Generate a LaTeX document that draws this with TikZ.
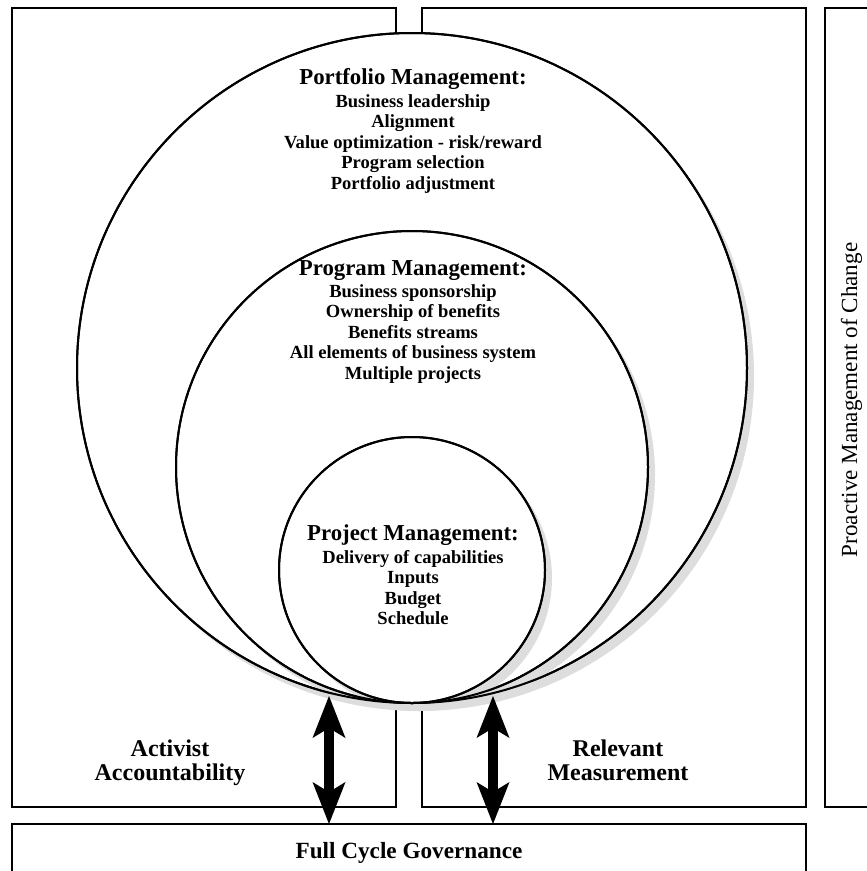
\documentclass[tikz,border=0pt]{standalone}
\usepackage{fontspec}
\setmainfont{Liberation Serif}
\usetikzlibrary{arrows.meta,shadows}
\definecolor{shade}{RGB}{221,221,221}
\begin{document}
\begin{tikzpicture}[x=0.75pt,y=-0.75pt,
  frame/.style={draw=black,line width=1.5pt},
  ring/.style={circle,draw=black,line width=1.5pt,fill=white,inner sep=0pt,
    drop shadow={shadow xshift=5.25pt,shadow yshift=-6pt,fill=shade,opacity=1}},
  rim/.style={draw=black,line width=1.5pt},
  heading/.style={font=\bfseries\fontsize{17.1pt}{20pt}\selectfont,anchor=base,inner sep=0pt},
  entry/.style={font=\bfseries\fontsize{13.9pt}{16pt}\selectfont,anchor=base,inner sep=0pt},
  caption/.style={font=\bfseries\fontsize{18pt}{20pt}\selectfont,anchor=base,inner sep=0pt},
  tip/.tip={Stealth[length=31.5pt,width=24.75pt,inset=7.5pt,line width=0pt]},
  link/.style={line width=7.5pt,tip-tip}]
\clip (0,0) rectangle (867,871);

% outer frames
\draw[frame] (12,8) rectangle (396,807);
\draw[frame] (422,8) rectangle (806,807);
\draw[frame] (825,8) rectangle (900,807);
\draw[frame] (12,824) rectangle (806,900);
\coordinate (govtop) at (409,824);

% nested management circles, all touching at the bottom
\node[ring,minimum size=502.5pt] (portfolio) at (412,368) {};
\node[ring,minimum size=354pt] (program) at (412,467) {};
\node[ring,minimum size=199.5pt] (project) at (412,570) {};
\draw[rim] (portfolio.center) circle[radius=335];
\draw[rim] (program.center) circle[radius=236];
\draw[rim] (project.center) circle[radius=133];

% portfolio level
\node[heading] (pfhead) at (413,84) {Portfolio Management:};
\foreach \t [count=\i] in {Business leadership,Alignment,{Value optimization - risk/reward},Program selection,Portfolio adjustment}
  \node[entry] (pf\i) at (413,{107+20.5*(\i-1)}) {\t};

% program level
\node[heading] (pghead) at (413,275) {Program Management:};
\foreach \t [count=\i] in {Business sponsorship,Ownership of benefits,Benefits streams,All elements of business system,Multiple projects}
  \node[entry] (pg\i) at (413,{297+20.5*(\i-1)}) {\t};

% project level
\node[heading] (pjhead) at (413,540) {Project Management:};
\foreach \t [count=\i] in {Delivery of capabilities,Inputs,Budget,Schedule}
  \node[entry] (pj\i) at (413,{563+20.5*(\i-1)}) {\t};

% side captions
\node[caption] (act1) at (170,756) {Activist};
\node[caption] (act2) at (170,780) {Accountability};
\node[caption] (rel1) at (618,756) {Relevant};
\node[caption] (rel2) at (618,780) {Measurement};
\node[font=\bfseries\fontsize{17.4pt}{20pt}\selectfont,anchor=base,inner sep=0pt] (gov) at (409,858) {Full Cycle Governance};
\node[font=\fontsize{17.3pt}{20pt}\selectfont,rotate=90,anchor=base,inner sep=0pt] (change) at (857,400) {Proactive Management of Change};

% two-way links between the circles and governance
\coordinate (aL) at (329,696);
\coordinate (aR) at (493,696);
\draw[link] (aL) -- (aL |- govtop);
\draw[link] (aR) -- (aR |- govtop);
\end{tikzpicture}
\end{document}
